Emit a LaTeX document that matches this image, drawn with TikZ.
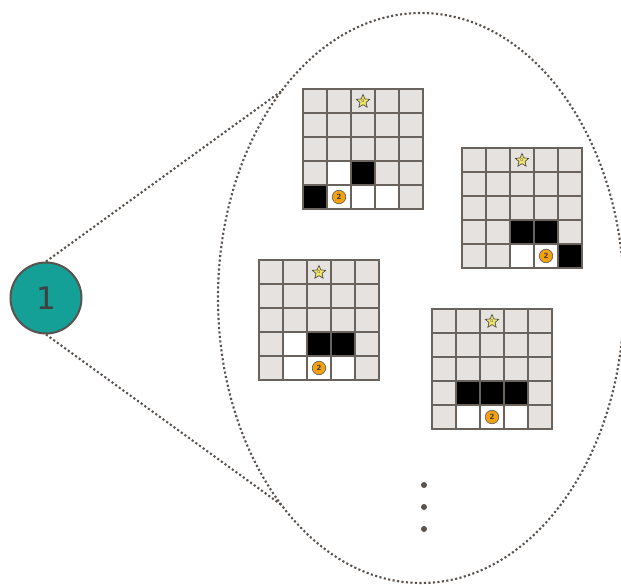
\documentclass[tikz,border=0pt]{standalone}
\usepackage{fontspec}
\newfontfamily\labelfont{DejaVu Sans}
\usetikzlibrary{shapes.geometric}

\definecolor{cellgray}{HTML}{E6E2DF}
\definecolor{gridline}{HTML}{6A625D}
\definecolor{dotgray}{HTML}{5A524D}
\definecolor{stagefill}{HTML}{14A096}
\definecolor{ring}{HTML}{5A524E}
\definecolor{coin}{HTML}{F5A00F}
\definecolor{staryellow}{HTML}{F0E66A}

\tikzset{
  dotline/.style={draw=dotgray, line width=2.1pt, dash pattern=on 2.1pt off 2.4pt},
  cellgrid/.style={draw=gridline, line width=1.1pt, line cap=rect},
  goalstar/.style={star, star points=5, star point ratio=2.2, fill=staryellow,
    draw=black!75, line width=0.6pt, minimum size=14pt, inner sep=0pt,
    font=\labelfont\fontsize{4}{4}\selectfont, text=black!70},
  coinmark/.style={circle, fill=coin, draw=black!60, line width=0.7pt,
    minimum size=13.5pt, inner sep=0pt,
    font=\labelfont\bfseries\fontsize{7}{7}\selectfont, text=black!75},
  seqdot/.style={circle, fill=dotgray, minimum size=6pt, inner sep=0pt},
}

% #1 board id, #2 x, #3 y, #4 black cells, #5 white cells, #6 coin column
\newcommand\gridboard[6]{%
  \begin{scope}[shift={(#2,#3)}]
    \fill[cellgray] (0,0) rectangle (120,120);
    \foreach \c/\r in {#5} \fill[white] (\c*24,\r*24) rectangle ++(24,24);
    \foreach \c/\r in {#4} \fill[black] (\c*24,\r*24) rectangle ++(24,24);
    \foreach \i in {0,...,5} {
      \draw[cellgrid] (\i*24,0) -- (\i*24,120);
      \draw[cellgrid] (0,\i*24) -- (120,\i*24);
    }
    \node[goalstar] (star#1) at (60,12.5) {G};
    \node[coinmark] (coin#1) at (#6*24+12,108) {2};
  \end{scope}}

\begin{document}
\begin{tikzpicture}[x=1pt,y=-1pt]
  \useasboundingbox (0,0) rectangle (621,584);

  % zoomed-in view
  \node[ellipse, dotline, minimum width=406pt, minimum height=570pt, inner sep=0pt]
    (view) at (421,298) {};

  % stage marker
  \node[circle, fill=stagefill, draw=ring, line width=2pt, minimum size=71pt,
        inner sep=0pt, font=\labelfont\fontsize{31}{31}\selectfont, text=black!75]
    (stage) at (46,298) {1};

  \coordinate (viewtop) at (283,90);
  \coordinate (viewbot) at (283,506);
  \draw[dotline] (stage.north) -- (viewtop);
  \draw[dotline] (stage.south) -- (viewbot);

  % boards
  \gridboard{a}{303}{89}{0/4,2/3}{1/3,2/4,3/4,1/4}{1}
  \gridboard{b}{462}{148}{2/3,3/3,4/4}{2/4,3/4}{3}
  \gridboard{c}{259}{260}{2/3,3/3}{1/3,1/4,2/4,3/4}{2}
  \gridboard{d}{432}{309}{1/3,2/3,3/3}{1/4,2/4,3/4}{2}

  % more boards follow
  \node[seqdot] (dot1) at (424,485) {};
  \node[seqdot] (dot2) at (424,507) {};
  \node[seqdot] (dot3) at (424,529) {};
\end{tikzpicture}
\end{document}
